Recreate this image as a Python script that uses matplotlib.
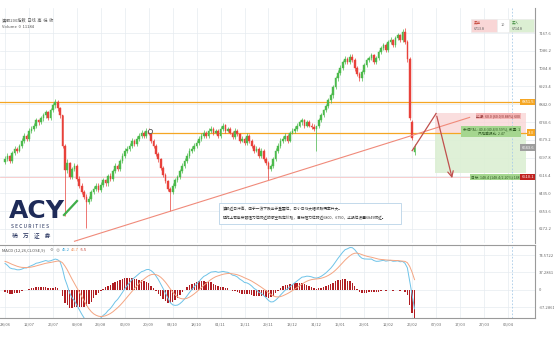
import matplotlib
matplotlib.use('Agg')
import matplotlib.pyplot as plt
import numpy as np
from matplotlib.patches import Rectangle

plt.rcParams['font.family'] = ['Noto Sans CJK SC', 'DejaVu Sans']

opens = [6580, 6593, 6607, 6584, 6621, 6639, 6630, 6653, 6676, 6699,
         6685, 6722, 6731, 6745, 6768, 6759, 6777, 6791, 6805, 6777,
         6814, 6837, 6851, 6823, 6791, 6650, 6540, 6575, 6510, 6545,
         6560, 6500, 6470, 6440, 6420, 6395, 6410, 6440, 6455, 6470,
         6450, 6475, 6495, 6480, 6515, 6501, 6538, 6561, 6547, 6584,
         6607, 6630, 6639, 6653, 6676, 6662, 6685, 6699, 6713, 6699,
         6722, 6708, 6676, 6653, 6615, 6590, 6550, 6520, 6490, 6455,
         6440, 6470, 6495, 6510, 6538, 6561, 6584, 6607, 6630, 6639,
         6653, 6667, 6685, 6699, 6713, 6699, 6722, 6731, 6713, 6722,
         6699, 6731, 6745, 6722, 6731, 6713, 6694, 6722, 6704, 6676,
         6685, 6667, 6699, 6676, 6653, 6630, 6639, 6607, 6630, 6593,
         6575, 6545, 6561, 6593, 6630, 6653, 6676, 6685, 6699, 6676,
         6713, 6722, 6731, 6745, 6759, 6768, 6745, 6759, 6745, 6738,
         6730, 6742, 6770, 6792, 6815, 6835, 6862, 6885, 6920, 6960,
         6985, 7010, 7035, 7050, 7035, 7060, 7044, 7007, 6980, 6960,
         6989, 7021, 7044, 7053, 7067, 7035, 7053, 7081, 7099, 7113,
         7090, 7127, 7136, 7113, 7145, 7159, 7136, 7173, 7127, 7050,
         6760, 6625]
highs = [6605, 6620, 6612, 6630, 6650, 6648, 6662, 6688, 6710, 6705,
         6735, 6742, 6758, 6780, 6775, 6788, 6802, 6818, 6812, 6825,
         6848, 6868, 6860, 6830, 6795, 6660, 6590, 6580, 6556, 6575,
         6568, 6512, 6480, 6452, 6430, 6425, 6452, 6468, 6482, 6480,
         6488, 6505, 6502, 6525, 6526, 6548, 6572, 6570, 6594, 6618,
         6640, 6650, 6664, 6688, 6684, 6696, 6710, 6724, 6722, 6734,
         6735, 6715, 6685, 6660, 6622, 6598, 6560, 6530, 6498, 6465,
         6480, 6505, 6520, 6548, 6572, 6595, 6618, 6640, 6650, 6664,
         6678, 6695, 6710, 6724, 6720, 6732, 6742, 6738, 6730, 6730,
         6742, 6756, 6752, 6740, 6738, 6720, 6732, 6730, 6712, 6695,
         6692, 6710, 6705, 6684, 6660, 6650, 6645, 6640, 6636, 6600,
         6582, 6570, 6602, 6640, 6664, 6686, 6695, 6710, 6705, 6722,
         6732, 6742, 6756, 6770, 6780, 6775, 6768, 6768, 6758, 6750,
         6745, 6780, 6800, 6822, 6842, 6872, 6895, 6932, 6972, 6998,
         7022, 7046, 7062, 7060, 7072, 7070, 7052, 7015, 6990, 6998,
         7032, 7055, 7064, 7078, 7072, 7062, 7092, 7110, 7124, 7120,
         7138, 7148, 7140, 7156, 7170, 7165, 7184, 7190, 7135, 7058,
         6770, 6660]
lows = [6570, 6582, 6575, 6575, 6610, 6620, 6622, 6643, 6666, 6675,
        6676, 6712, 6720, 6735, 6748, 6750, 6766, 6780, 6768, 6768,
        6805, 6826, 6812, 6780, 6640, 6330, 6530, 6500, 6500, 6535,
        6490, 6460, 6430, 6410, 6275, 6385, 6400, 6430, 6445, 6440,
        6440, 6465, 6470, 6470, 6490, 6492, 6528, 6538, 6538, 6575,
        6598, 6620, 6630, 6643, 6652, 6652, 6675, 6690, 6690, 6690,
        6700, 6665, 6642, 6605, 6580, 6540, 6510, 6480, 6445, 6355,
        6430, 6460, 6485, 6500, 6528, 6552, 6574, 6598, 6620, 6630,
        6644, 6656, 6675, 6690, 6688, 6690, 6712, 6702, 6704, 6690,
        6690, 6722, 6712, 6714, 6704, 6684, 6685, 6695, 6666, 6668,
        6656, 6658, 6666, 6643, 6620, 6622, 6596, 6598, 6582, 6565,
        6495, 6535, 6552, 6584, 6620, 6644, 6666, 6676, 6666, 6668,
        6704, 6712, 6722, 6736, 6748, 6735, 6736, 6738, 6728, 6720,
        6630, 6735, 6762, 6785, 6805, 6825, 6850, 6872, 6910, 6950,
        6975, 7000, 7025, 7025, 7025, 7034, 6996, 6970, 6950, 6950,
        6980, 7012, 7034, 7044, 7025, 7025, 7044, 7072, 7090, 7080,
        7080, 7118, 7105, 7104, 7136, 7128, 7126, 7118, 7035, 6770,
        6680, 6610]
closes = [6593, 6607, 6584, 6621, 6639, 6630, 6653, 6676, 6699, 6685,
          6722, 6731, 6745, 6768, 6759, 6777, 6791, 6805, 6777, 6814,
          6837, 6851, 6823, 6791, 6650, 6540, 6575, 6510, 6545, 6560,
          6500, 6470, 6440, 6420, 6395, 6410, 6440, 6455, 6470, 6450,
          6475, 6495, 6480, 6515, 6501, 6538, 6561, 6547, 6584, 6607,
          6630, 6639, 6653, 6676, 6662, 6685, 6699, 6713, 6699, 6722,
          6708, 6676, 6653, 6615, 6590, 6550, 6520, 6490, 6455, 6440,
          6470, 6495, 6510, 6538, 6561, 6584, 6607, 6630, 6639, 6653,
          6667, 6685, 6699, 6713, 6699, 6722, 6731, 6713, 6722, 6699,
          6731, 6745, 6722, 6731, 6713, 6694, 6722, 6704, 6676, 6685,
          6667, 6699, 6676, 6653, 6630, 6639, 6607, 6630, 6593, 6575,
          6545, 6561, 6593, 6630, 6653, 6676, 6685, 6699, 6676, 6713,
          6722, 6731, 6745, 6759, 6768, 6745, 6759, 6745, 6738, 6730,
          6742, 6770, 6792, 6815, 6835, 6862, 6885, 6920, 6960, 6985,
          7010, 7035, 7050, 7035, 7060, 7044, 7007, 6980, 6960, 6989,
          7021, 7044, 7053, 7067, 7035, 7053, 7081, 7099, 7113, 7090,
          7127, 7136, 7113, 7145, 7159, 7136, 7173, 7127, 7050, 6780,
          6690, 6640]

date_labels = ['28/06', '12/07', '26/07', '09/08', '23/08', '06/09', '20/09',
               '04/10', '18/10', '01/11', '15/11', '29/11', '13/12', '31/12',
               '15/01', '29/01', '12/02', '26/02', '07/03', '17/03', '27/03',
               '06/04']
date_pos = [0, 10, 20, 30, 40, 50, 60, 70, 80, 90, 100, 110, 120, 130,
            140, 150, 160, 170, 180, 190, 200, 210]

price_ticks = [7167.6, 7086.2, 7004.8, 6923.4, 6842.0, 6760.6, 6679.2,
               6597.8, 6516.4, 6435.0, 6353.6, 6272.2]
macd_ticks = [74.5722, 37.2861, 0, -37.2861]
macd_tick_labels = ['74.5722', '37.2861', '0', '-37.2861']
macd_seed = [6606, 6544, 62]   # ema12, ema26, signal before first bar
macd_values_text = ['45.2', '46.7', '-5.5']

level_upper = 6851.5
level_entry = 6713.0
level_last = 6643.6
level_target = 6510.1
stop_top = 6800.0
trend_x = [29, 194]
trend_y = [6216, 6782]
arrow_x = [170, 180, 187]
arrow_y = [6630, 6800, 6492]

W, H = 554, 340
fig = plt.figure(figsize=(W / 100, H / 100), dpi=100)
fig.patch.set_facecolor('white')

def ax_rect(x0, y0, x1, y1):
    return [x0 / W, 1 - y1 / H, (x1 - x0) / W, (y1 - y0) / H]

def fx(px):
    return px / W

def fy(py):
    return 1 - py / H

ax = fig.add_axes(ax_rect(0, 8, 535, 243))
axm = fig.add_axes(ax_rect(0, 245, 535, 318), sharex=ax)

grid_c = '#e6ebf0'
txt_c = '#6b6b6b'
fs = 3.0

for a in (ax, axm):
    a.set_facecolor('white')
    for s in ('top', 'left', 'bottom'):
        a.spines[s].set_visible(False)
    a.spines['right'].set_color('#9a9a9a')
    a.spines['right'].set_linewidth(0.8)
    a.yaxis.tick_right()
    a.tick_params(axis='y', length=0, labelsize=fs, labelcolor=txt_c, pad=2.5)
    a.tick_params(axis='x', length=0)
    a.set_xticks(date_pos)
    a.grid(True, color=grid_c, linewidth=0.5)
    a.set_axisbelow(True)
axm.spines['bottom'].set_visible(True)
axm.spines['bottom'].set_color('#9a9a9a')
axm.spines['top'].set_visible(True)
axm.spines['top'].set_color('#9a9a9a')
axm.spines['top'].set_linewidth(0.8)
plt.setp(ax.get_xticklabels(), visible=False)
axm.set_xticklabels(date_labels, fontsize=fs, color=txt_c)
axm.tick_params(axis='x', pad=3)

ax.set_xlim(-2.1, 221.3)
ax.set_ylim(6208, 7282)
ax.set_yticks(price_ticks)
ax.set_yticklabels([f'{v:.1f}' for v in price_ticks])
axm.set_ylim(-60.9, 96.1)
axm.set_yticks(macd_ticks)
axm.set_yticklabels(macd_tick_labels)

# candles
up_c, dn_c = '#4cba4c', '#e8413a'
n = len(closes)
xs = np.arange(n)
for i in range(n):
    o, h, l, c = opens[i], highs[i], lows[i], closes[i]
    col = up_c if c >= o else dn_c
    ax.vlines(i, l, h, color=col, linewidth=0.5, zorder=3)
    ax.add_patch(Rectangle((i - 0.35, min(o, c)), 0.7, max(abs(c - o), 1.5),
                           facecolor=col, edgecolor=col, linewidth=0.3, zorder=3))

# horizontal levels
ax.axhline(level_upper, color='#f5a623', linewidth=0.9, zorder=2)
ax.plot([60.5, 221.3], [level_entry, level_entry], color='#f5a623', linewidth=0.9, zorder=2)
ax.plot(60.5, level_entry + 8, marker='o', mfc='white', mec='#555555', ms=3, mew=0.6, zorder=4)
ax.axhline(level_target, color='#f7c6c6', linewidth=0.6, zorder=2)

# risk/reward zones
ax.add_patch(Rectangle((179.5, level_entry), 38, stop_top - level_entry,
                       facecolor='#f9d6d6', edgecolor='none', alpha=0.8, zorder=1))
ax.add_patch(Rectangle((179.5, level_target + 20), 38, level_entry - level_target - 20,
                       facecolor='#dcefd3', edgecolor='none', alpha=0.9, zorder=1))

# trend line
ax.plot(trend_x, trend_y, color='#f08a7a', linewidth=0.8, zorder=4)
# arrows
ax.plot(arrow_x[:2], arrow_y[:2], color='#c0504d', linewidth=0.9, zorder=5)
ax.annotate('', xy=(arrow_x[2], arrow_y[2]), xytext=(arrow_x[1], arrow_y[1]),
            arrowprops=dict(arrowstyle='->', color='#c0504d', lw=0.9), zorder=5)

# vertical dashed cursor line
for a in (ax, axm):
    a.axvline(211.7, color='#a8cbe8', linewidth=0.6, linestyle=(0, (2, 2)), zorder=2)

# right-side price boxes
def rbox(y, text, fc, tc='white'):
    ax.text(0.998, y, text, transform=ax.get_yaxis_transform(), fontsize=fs,
            color=tc, ha='right', va='center', zorder=10,
            bbox=dict(boxstyle='square,pad=0.3', fc=fc, ec='none'))

rbox(level_upper, '6851.5', '#f5a623')
rbox(level_entry, '3.3', '#f5a623')
rbox(level_last, '6643.6', '#9e9e9e')
rbox(level_target, '6510.1', '#c0221f')

# tool labels
ax.text(206, 6787, '止损: 60.0 (60.0/0.88%) 600', fontsize=2.6, color='#8b2d2d', ha='center', va='center',
        zorder=9, bbox=dict(boxstyle='square,pad=0.25', fc='#f4b6b6', ec='none'))
ax.text(203, 6718, '未结P&L: 40.4 (40.4/0.59%), 数量: 1\n风险回报比: 2.47', fontsize=2.6, color='#2f5a22',
        ha='center', va='center', zorder=9, linespacing=1.4,
        bbox=dict(boxstyle='square,pad=0.35', fc='#a5d68f', ec='none'))
ax.text(205, level_target, '目标: 148.4 (148.4/2.20%) 1484', fontsize=2.6, color='#2f5a22', ha='center',
        va='center', zorder=9, bbox=dict(boxstyle='square,pad=0.25', fc='#a5d68f', ec='none'))

# header text
fig.text(fx(2), fy(20), '澳股200指数  日线  高  低  收', fontsize=fs, color='#555555', va='center')
fig.text(fx(2), fy(27), 'Volume  0  11184', fontsize=fs, color='#555555', va='center')

# buy / sell boxes
fig.patches.append(Rectangle((fx(471), fy(32)), fx(26), 13 / H, transform=fig.transFigure,
                             facecolor='#f9d6d6', edgecolor='#e9e9e9', linewidth=0.4))
fig.patches.append(Rectangle((fx(497), fy(32)), fx(12), 13 / H, transform=fig.transFigure,
                             facecolor='white', edgecolor='#e9e9e9', linewidth=0.4))
fig.patches.append(Rectangle((fx(509), fy(32)), fx(25), 13 / H, transform=fig.transFigure,
                             facecolor='#dcefd3', edgecolor='#e9e9e9', linewidth=0.4))
fig.text(fx(474), fy(22.5), '卖出', fontsize=2.6, color='#c0392b', ha='left', va='center')
fig.text(fx(474), fy(28.5), '6713.8', fontsize=2.6, color='#555555', ha='left', va='center')
fig.text(fx(503), fy(25.5), '10', fontsize=2.8, color='#777777', ha='center', va='center')
fig.text(fx(512), fy(22.5), '买入', fontsize=2.6, color='#3b8a3b', ha='left', va='center')
fig.text(fx(512), fy(28.5), '6714.8', fontsize=2.6, color='#555555', ha='left', va='center')

# comment box
fig.patches.append(Rectangle((fx(219), fy(224)), fx(182), 21 / H, transform=fig.transFigure,
                             facecolor='white', edgecolor='#b9d3e8', linewidth=0.6, zorder=12))
fig.text(fx(223), fy(209), '澳股近日冲高，由于一浪下跌出于重要位，日小日线大幅收跌概率升大。',
         fontsize=2.7, color='#333333', va='center', ha='left', zorder=13)
fig.text(fx(223), fy(218),
         '操作上若能突破阻力位附近的做空制定价格，目标阻力位附近6800、6750，止损位设置6849附近。',
         fontsize=2.7, color='#333333', va='center', ha='left', zorder=13)

# logo
fig.text(fx(9), fy(211), 'ACY', fontsize=18, fontweight='bold', color='#1e2b58',
         va='center', ha='left', family='DejaVu Sans')
fig.lines.append(plt.Line2D([fx(64), fx(77)], [fy(215), fy(201)], transform=fig.transFigure,
                            color='#3fae49', linewidth=1.6))
fig.text(fx(11), fy(227), 'S E C U R I T I E S', fontsize=3.6, color='#1e2b58', va='center', ha='left')
fig.text(fx(12), fy(235), '稀    万    证    券', fontsize=4.2, color='#1e2b58', va='center', ha='left')

# MACD (12,26,9) computed from the closes
cl = np.array(closes, dtype=float)
e12, e26, sig = macd_seed
dif, dea = [], []
for c in cl:
    e12 = e12 + (c - e12) * 2 / 13
    e26 = e26 + (c - e26) * 2 / 27
    d = e12 - e26
    sig = sig + (d - sig) * 2 / 10
    dif.append(d)
    dea.append(sig)
dif = np.array(dif)
dea = np.array(dea)
hist = dif - dea
axm.bar(xs, hist, width=0.6, color='#b01e23', zorder=3)
axm.plot(xs, dif, color='#6ec3e8', linewidth=0.7, zorder=4)
axm.plot(xs, dea, color='#f4a582', linewidth=0.7, zorder=4)

fig.text(fx(2), fy(250), 'MACD (12,26,CLOSE,9)', fontsize=fs, color='#555555', va='center')
fig.text(fx(50), fy(250), '⚙  ◎', fontsize=fs, color='#888888', va='center', family='DejaVu Sans')
fig.text(fx(62), fy(250), macd_values_text[0], fontsize=fs, color='#3ea6d8', va='center')
fig.text(fx(71), fy(250), macd_values_text[1], fontsize=fs, color='#f08a50', va='center')
fig.text(fx(80), fy(250), macd_values_text[2], fontsize=fs, color='#c0392b', va='center')

fig.savefig('out.png', dpi=100)
